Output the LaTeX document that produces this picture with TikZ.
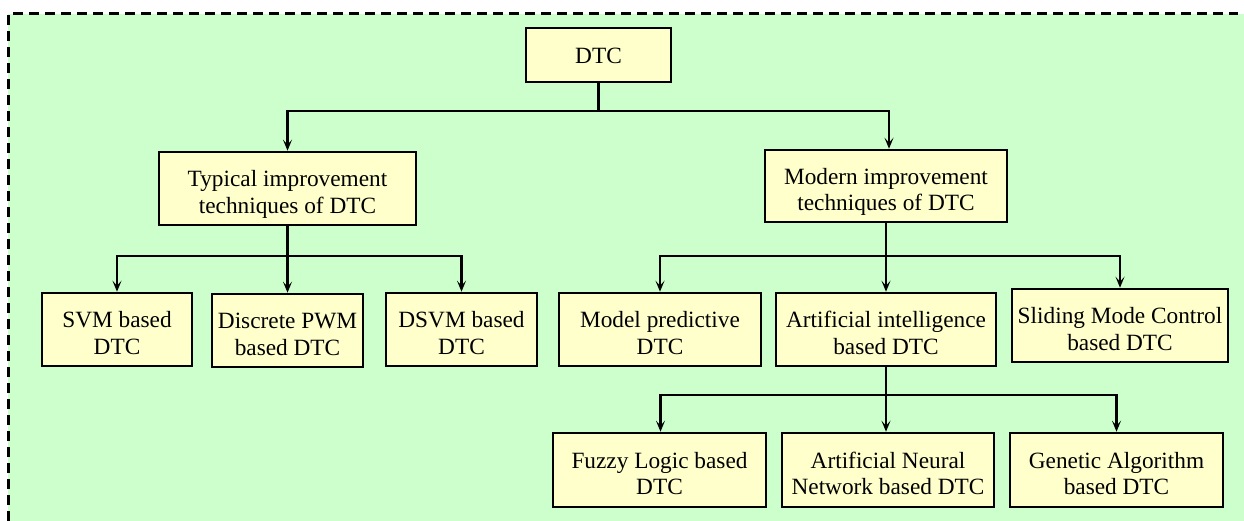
\documentclass[tikz,border=0pt]{standalone}
\usepackage{fontspec}
\setmainfont{Liberation Serif}
\usetikzlibrary{arrows.meta}
\definecolor{bggreen}{HTML}{CCFFCC}
\definecolor{boxyellow}{HTML}{FFFFCC}
\newcommand{\boxtxt}[2][-6pt]{\raisebox{#1}[\height][\depth]{\begin{tabular}{@{}c@{}}#2\end{tabular}}}
\begin{document}
\begin{tikzpicture}[x=1pt,y=-1pt,
  blk/.style={draw=black,line width=2.6pt,fill=boxyellow,inner sep=0pt,
    font=\fontsize{23.3}{26.5}\selectfont},
  conn/.style={line width=2.2pt,draw=black},
  arr/.style={conn,-{Stealth[length=11pt,width=9pt,inset=5pt]}}]
\useasboundingbox (0,0) rectangle (1244,521);
\fill[bggreen] (8,14) rectangle (1244,521);
\draw[line width=3pt,dash pattern=on 10pt off 6pt] (8,521) -- (8,14) -- (1238,14);
% nodes
\node[blk,minimum width=145pt,minimum height=54pt] (dtc) at (598.5,55) {\boxtxt[-3pt]{DTC}};
\node[blk,minimum width=257pt,minimum height=73pt] (typ) at (287.5,188.5) {\boxtxt{Typical improvement\\techniques of DTC}};
\node[blk,minimum width=242pt,minimum height=72pt] (mod) at (886,186) {\boxtxt{Modern improvement\\techniques of DTC}};
\node[blk,minimum width=150pt,minimum height=73pt] (svm) at (117,329.5) {\boxtxt{SVM based\\DTC}};
\node[blk,minimum width=151pt,minimum height=73pt] (dpwm) at (287.5,330.5) {\boxtxt{Discrete PWM\\based DTC}};
\node[blk,minimum width=151pt,minimum height=73pt] (dsvm) at (461.5,329.5) {\boxtxt{DSVM based\\DTC}};
\node[blk,minimum width=202pt,minimum height=73pt] (mpc) at (660,329.5) {\boxtxt{Model predictive\\DTC}};
\node[blk,minimum width=220pt,minimum height=73pt] (ai) at (886,329.5) {\boxtxt{Artificial intelligence\\based DTC}};
\node[blk,minimum width=216pt,minimum height=73pt] (smc) at (1120,325.5) {\boxtxt{Sliding Mode Control\\based DTC}};
\node[blk,minimum width=213pt,minimum height=74pt] (fuz) at (659.5,470) {\boxtxt{Fuzzy Logic based\\DTC}};
\node[blk,minimum width=212pt,minimum height=74pt] (ann) at (888,470) {\boxtxt{Artificial Neural\\Network based DTC}};
\node[blk,minimum width=213pt,minimum height=74pt] (ga) at (1116.5,470) {\boxtxt{Genetic Algorithm\\based DTC}};
% connectors
\coordinate (b1) at (598.5,111);
\draw[conn] (dtc.south) -- (b1);
\draw[arr] (b1) -| (typ.north);
\draw[arr] (b1) -| ([xshift=3pt]mod.north);
\coordinate (b2) at (287.5,256);
\draw[conn] (typ.south) -- (b2);
\draw[arr] (b2) -| (svm.north);
\draw[arr] (b2) -- (dpwm.north);
\draw[arr] (b2) -| (dsvm.north);
\coordinate (b3) at (886,256);
\draw[conn] (mod.south) -- (b3);
\draw[arr] (b3) -| (mpc.north);
\draw[arr] (b3) -- (ai.north);
\draw[arr] (b3) -| (smc.north);
\coordinate (b4) at (886,395);
\draw[conn] (ai.south) -- (b4);
\draw[arr] (b4) -| ([xshift=1pt]fuz.north);
\draw[arr] (b4) -| ([xshift=-2pt]ann.north);
\draw[arr] (b4) -| (ga.north);
\end{tikzpicture}
\end{document}
